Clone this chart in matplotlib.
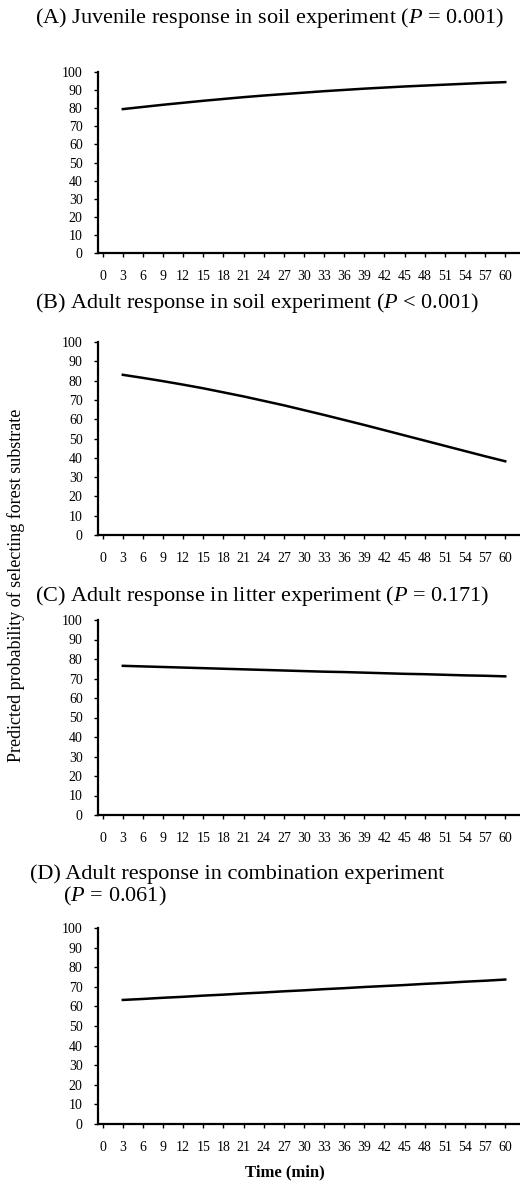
import matplotlib
matplotlib.use("Agg")
import matplotlib.pyplot as plt

plt.rcParams['font.family'] = ['Liberation Serif', 'DejaVu Serif']
plt.rcParams['mathtext.fontset'] = 'custom'
plt.rcParams['mathtext.it'] = 'Liberation Serif:italic'
plt.rcParams['mathtext.rm'] = 'Liberation Serif'

# time points (min)
time_min = [3, 6, 9, 12, 15, 18, 21, 24, 27, 30, 33, 36, 39, 42, 45, 48, 51, 54, 57, 60]
x_ticks = list(range(0, 61, 3))
y_ticks = list(range(0, 101, 10))

# predicted probability (%)
juvenile_soil = [79.5, 80.7, 81.9, 83.0, 84.1, 85.1, 86.1, 87.0, 87.8, 88.6,
                 89.4, 90.1, 90.8, 91.4, 92.0, 92.5, 93.0, 93.5, 94.0, 94.4]
adult_soil = [83.0, 81.4, 79.7, 77.9, 76.0, 73.9, 71.8, 69.5, 67.2, 64.7,
              62.2, 59.6, 57.0, 54.3, 51.6, 48.9, 46.2, 43.5, 40.8, 38.2]
adult_litter = [76.5, 76.2, 75.9, 75.6, 75.3, 75.0, 74.7, 74.4, 74.1, 73.8,
                73.5, 73.3, 73.0, 72.7, 72.4, 72.2, 71.9, 71.6, 71.4, 71.1]
adult_combo = [63.3, 63.8, 64.4, 64.9, 65.5, 66.0, 66.6, 67.1, 67.7, 68.2,
               68.8, 69.3, 69.9, 70.4, 70.9, 71.5, 72.0, 72.6, 73.1, 73.7]

titles = [
    "(A) Juvenile response in soil experiment ($\\it{P}$ = 0.001)",
    "(B) Adult response in soil experiment ($\\it{P}$ < 0.001)",
    "(C) Adult response in litter experiment ($\\it{P}$ = 0.171)",
    "(D) Adult response in combination experiment\n      ($\\it{P}$ = 0.061)",
]
series = [juvenile_soil, adult_soil, adult_litter, adult_combo]

W, H = 520, 1190
fig = plt.figure(figsize=(W / 100, H / 100), dpi=100)

# (top, bottom) of each plot area in pixels, plus title position
boxes = [(72, 253), (342, 535), (620, 815), (928, 1124)]
title_pos = [(35, 18), (35, 303), (35, 596), (30, 886)]

for i in range(4):
    top, bot = boxes[i]
    ax = fig.add_axes([98 / W, 1 - bot / H, (W - 98) / W, (bot - top) / H])
    ax.plot(time_min, series[i], color='black', lw=1.8)
    ax.set_xlim(-0.7, 62.2)
    ax.set_ylim(0, 100)
    ax.set_xticks(x_ticks)
    ax.set_yticks(y_ticks)
    ax.spines['top'].set_visible(False)
    ax.spines['right'].set_visible(False)
    ax.spines['left'].set_linewidth(1.6)
    ax.spines['bottom'].set_linewidth(1.6)
    ax.tick_params(axis='x', length=3, width=1, labelsize=10, pad=9)
    ax.tick_params(axis='y', length=3, width=1, labelsize=10, pad=8)
    tx, ty = title_pos[i]
    fig.text(tx / W, 1 - ty / H, titles[i], fontsize=16, ha='left', va='center',
             linespacing=1.1)

fig.text(16 / W, 1 - 585 / H, "Predicted probability of selecting forest substrate",
         rotation=90, ha='center', va='center', fontsize=13)
fig.text(285 / W, 1 - 1172 / H, "Time (min)", ha='center', va='center',
         fontsize=12, fontweight='bold')

fig.savefig('out.png', dpi=100)
plt.close(fig)
